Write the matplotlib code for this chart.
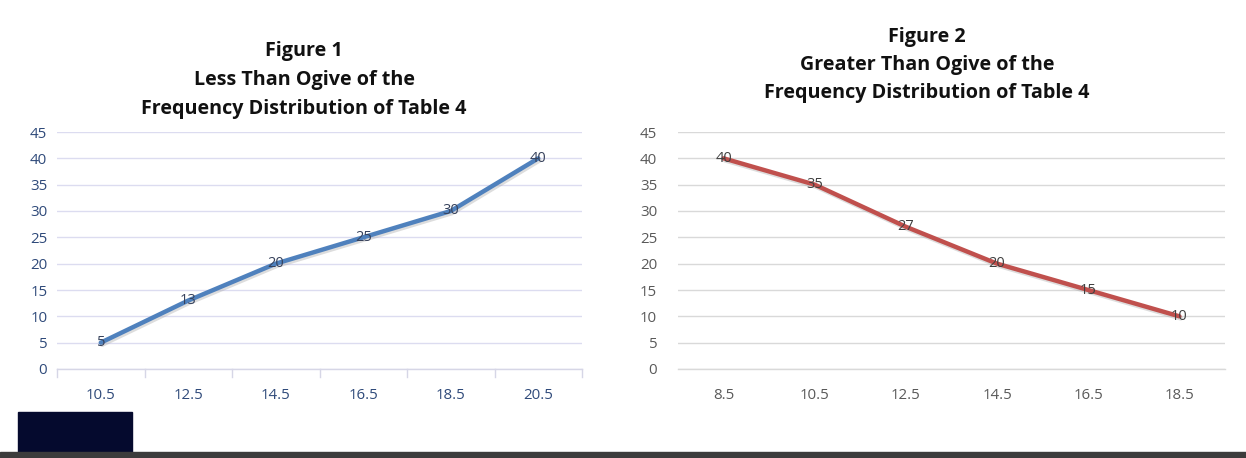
import matplotlib.pyplot as plt
import matplotlib.patheffects as pe
from matplotlib.patches import Rectangle

less_x = ["10.5", "12.5", "14.5", "16.5", "18.5", "20.5"]
less_y = [5, 13, 20, 25, 30, 40]
greater_x = ["8.5", "10.5", "12.5", "14.5", "16.5", "18.5"]
greater_y = [40, 35, 27, 20, 15, 10]
y_ticks = [0, 5, 10, 15, 20, 25, 30, 35, 40, 45]
title1 = ["Figure 1", "Less Than Ogive of the", "Frequency Distribution of Table 4"]
title2 = ["Figure 2", "Greater Than Ogive of the", "Frequency Distribution of Table 4"]

plt.rcParams['font.family'] = ['Open Sans', 'DejaVu Sans']

W, H = 1246, 458
fig = plt.figure(figsize=(W / 100, H / 100), dpi=100)


def px_axes(x0, x1, y_top, y_bot):
    return fig.add_axes([x0 / W, 1 - y_bot / H, (x1 - x0) / W, (y_bot - y_top) / H])


def draw(ax, cats, vals, color, txt, grid, label_col, tickcol, ticks):
    xs = list(range(len(cats)))
    ax.plot(xs, vals, color=color, lw=3.2, solid_capstyle='round', zorder=3,
            path_effects=[pe.SimpleLineShadow(offset=(1, -1.5), shadow_color='#aaaaaa', alpha=0.4),
                          pe.Normal()])
    for x, v in zip(xs, vals):
        ax.text(x, v, str(v), ha='center', va='center', fontsize=10.5, color=label_col, zorder=4)
    ax.set_xlim(-0.5, len(cats) - 0.5)
    ax.set_ylim(0, 45)
    ax.set_yticks(y_ticks)
    ax.set_xticks(xs)
    ax.set_xticklabels(cats)
    for s in ax.spines.values():
        s.set_visible(False)
    ax.grid(axis='y', color=grid, lw=1)
    ax.set_axisbelow(True)
    ax.axhline(0, color=tickcol, lw=1, clip_on=False, zorder=1)
    ax.tick_params(axis='y', length=0, labelsize=10.8, colors=txt)
    ax.tick_params(axis='x', length=0, labelsize=10.8, colors=txt, pad=14)
    if ticks:
        for b in [i - 0.5 for i in range(len(cats) + 1)]:
            ax.plot([b, b], [0, -1.6], color=tickcol, lw=1, clip_on=False)


def title(lines, cx, ys):
    for s, y in zip(lines, ys):
        fig.text(cx / W, 1 - y / H, s, ha='center', va='center', fontsize=14.2,
                 fontweight='bold', color='#111111')


ax1 = px_axes(57, 582, 132, 369)
draw(ax1, less_x, less_y, '#4f81bd', '#2f4a7a', '#dcdcf0', '#37425c', '#d6d6e6', True)
ax1.tick_params(axis='y', pad=7)
title(title1, 304, [51, 80, 109])

ax2 = px_axes(678, 1225, 132, 369)
draw(ax2, greater_x, greater_y, '#c0504d', '#595959', '#d9d9d9', '#404040', '#d9d9d9', False)
ax2.tick_params(axis='y', pad=15)
title(title2, 927, [37, 65, 93])

# slide footer pieces
fig.patches.append(Rectangle((18 / W, 1 - 453 / H), 114 / W, 41 / H, transform=fig.transFigure,
                             color='#050a2e', zorder=5))
fig.patches.append(Rectangle((0, 0), 1, 6 / H, transform=fig.transFigure, color='#3c3c3c', zorder=6))

fig.savefig("out.png", dpi=100)
